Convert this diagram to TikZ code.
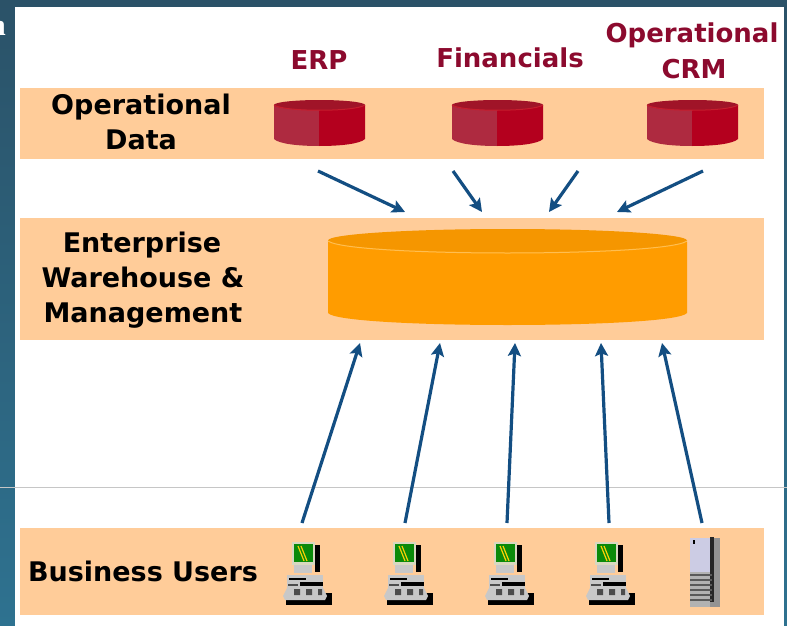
\documentclass[tikz,border=0pt]{standalone}
\usepackage{fontspec}
\setmainfont{DejaVu Sans}
\newfontfamily\serifletter{Liberation Serif}
\usetikzlibrary{arrows.meta}
\definecolor{bgtop}{HTML}{2B5268}
\definecolor{bgbot}{HTML}{2E7290}
\definecolor{bandc}{HTML}{FFCC99}
\definecolor{arrowc}{HTML}{134E82}
\definecolor{maroonc}{HTML}{8C0A2E}
\definecolor{orangec}{HTML}{FF9C00}
\definecolor{orangetop}{HTML}{F59600}
\definecolor{orangerim}{HTML}{FFBE50}
\definecolor{redL}{HTML}{AE2A40}
\definecolor{redR}{HTML}{B4001E}
\definecolor{redT}{HTML}{A01428}
\definecolor{screenc}{HTML}{0A8A0A}
\definecolor{beigec}{HTML}{D8D8C0}
\definecolor{greyc}{HTML}{C8C8C8}
\definecolor{lavc}{HTML}{CCCCE4}
\tikzset{
  x=1pt,y=-1pt,
  band/.style={fill=bandc,draw=none},
  flow/.style={draw=arrowc,line width=3.2pt,-{Stealth[length=13pt,width=13pt,inset=2.5pt]}},
  blacklabel/.style={anchor=base,text=black,font=\fontsize{27}{27}\selectfont\bfseries,inner sep=0pt},
  redlabel/.style={anchor=base,text=maroonc,font=\fontsize{26}{26}\selectfont\bfseries,inner sep=0pt},
  pics/redcyl/.style={code={
    \fill[redL] (0,5) -- (0,39) .. controls (5,44) and (25,46) .. (45,46) -- (45,5) -- cycle;
    \fill[redR] (45,5) -- (45,46) .. controls (66,46) and (86,44) .. (91,39) -- (91,5) -- cycle;
    \fill[redT] (45.5,5) ellipse[x radius=45.5,y radius=5];
    \draw[line width=1pt,draw=red!30!redL] (0,5) .. controls (10,12) and (81,12) .. (91,5);
  }},
  pics/computer/.style={code={
    % shadow and tower side
    \fill[black] (-6,51) rectangle (40,63);
    \fill[black] (23,3) rectangle (28,30);
    % monitor
    \fill[beigec] (0,0) rectangle (23,23);
    \fill[screenc] (2,2) rectangle (21,20);
    \draw[line width=1.2pt,draw=yellow!70!orange] (6,4) -- (12,19) (9,4) -- (15,19);
    \fill[greyc] (2,23) rectangle (20,31);
    % system unit
    \fill[greyc] (-5,33) rectangle (31,46);
    \fill[black] (-3,36) rectangle (14,38);
    \fill[black] (8,40) rectangle (31,44);
    \fill[gray!60!black] (-4,42) rectangle (6,44);
    % keyboard
    \fill[greyc] (-9,54) -- (-5,46) -- (31,46) -- (35,54) -- (33,58) -- (-7,58) -- cycle;
    \fill[gray!60!black] (2,47) rectangle (8,53) (14,47) rectangle (20,53) (26,47) rectangle (30,53);
  }},
  pics/server/.style={code={
    \fill[gray!85] (20,2) rectangle (30,71);
    \fill[black!85] (20,1) rectangle (24,66);
    \fill[lavc] (0,2) rectangle (20,36);
    \fill[black] (3,4) rectangle (5,8);
    \fill[gray!60] (0,36) rectangle (20,71);
    \foreach \k in {38,43,48,53,58,63}
      \fill[black!65] (0,\k) rectangle (22,\k+2);
  }},
}
\begin{document}
\begin{tikzpicture}
\useasboundingbox (0,0) rectangle (787,626);
\clip (0,0) rectangle (787,626);
% slide background
\shade[top color=bgtop,bottom color=bgbot,shading angle=0] (0,0) rectangle (787,626);
\fill[white] (15,7) rectangle (784,626);
\node[anchor=base east,inner sep=0pt,text=white,font=\fontsize{30}{30}\selectfont\serifletter\bfseries] (clipped) at (6,36) {n};
\draw[draw=gray!45,line width=0.8pt] (0,487) -- (787,487);
% bands
\fill[band] (20,88) rectangle (764,159);
\fill[band] (20,218) rectangle (764,340);
\fill[band] (20,528) rectangle (764,615);
% band labels
\node[blacklabel] (opdata1) at (141,114) {Operational};
\node[blacklabel] (opdata2) at (141,149) {Data};
\node[blacklabel] (ewm1) at (142,252) {Enterprise};
\node[blacklabel] (ewm2) at (143,287) {Warehouse \&};
\node[blacklabel] (ewm3) at (143,322) {Management};
\node[blacklabel] (users) at (143,581) {Business Users};
% source labels
\node[redlabel] (erp) at (319,70) {ERP};
\node[redlabel] (fin) at (510,67) {Financials};
\node[redlabel] (crm1) at (692,43) {Operational};
\node[redlabel] (crm2) at (694,78) {CRM};
% source cylinders
\pic at (274,100) {redcyl};
\pic at (452,100) {redcyl};
\pic at (647,100) {redcyl};
% warehouse cylinder
\fill[orangec] (328,242) -- (328,313) .. controls (340,329) and (675,329) .. (687,313) -- (687,242) -- cycle;
\fill[orangetop] (507.5,240.5) ellipse[x radius=179.5,y radius=11.5];
\draw[draw=orangerim,line width=1pt] (328,241) .. controls (350,257) and (665,257) .. (687,241);
% computers
\pic at (292,542) {computer};
\pic at (393,542) {computer};
\pic at (494,542) {computer};
\pic at (595,542) {computer};
\pic at (690,536) {server};
% connector ends
\coordinate (s1) at (318,171);
\coordinate (s2) at (453,171);
\coordinate (s3) at (578,171);
\coordinate (s4) at (703,171);
\coordinate (w1) at (405,212);
\coordinate (w2) at (482,212);
\coordinate (w3) at (549,212);
\coordinate (w4) at (617,212);
\coordinate (u1) at (302,523);
\coordinate (u2) at (405,523);
\coordinate (u3) at (507,523);
\coordinate (u4) at (609,523);
\coordinate (u5) at (702,523);
\coordinate (b1) at (360,343);
\coordinate (b2) at (440,343);
\coordinate (b3) at (515,343);
\coordinate (b4) at (601,343);
\coordinate (b5) at (662,343);
\draw[flow] (s1) -- (w1);
\draw[flow] (s2) -- (w2);
\draw[flow] (s3) -- (w3);
\draw[flow] (s4) -- (w4);
\draw[flow] (u1) -- (b1);
\draw[flow] (u2) -- (b2);
\draw[flow] (u3) -- (b3);
\draw[flow] (u4) -- (b4);
\draw[flow] (u5) -- (b5);
\end{tikzpicture}
\end{document}
